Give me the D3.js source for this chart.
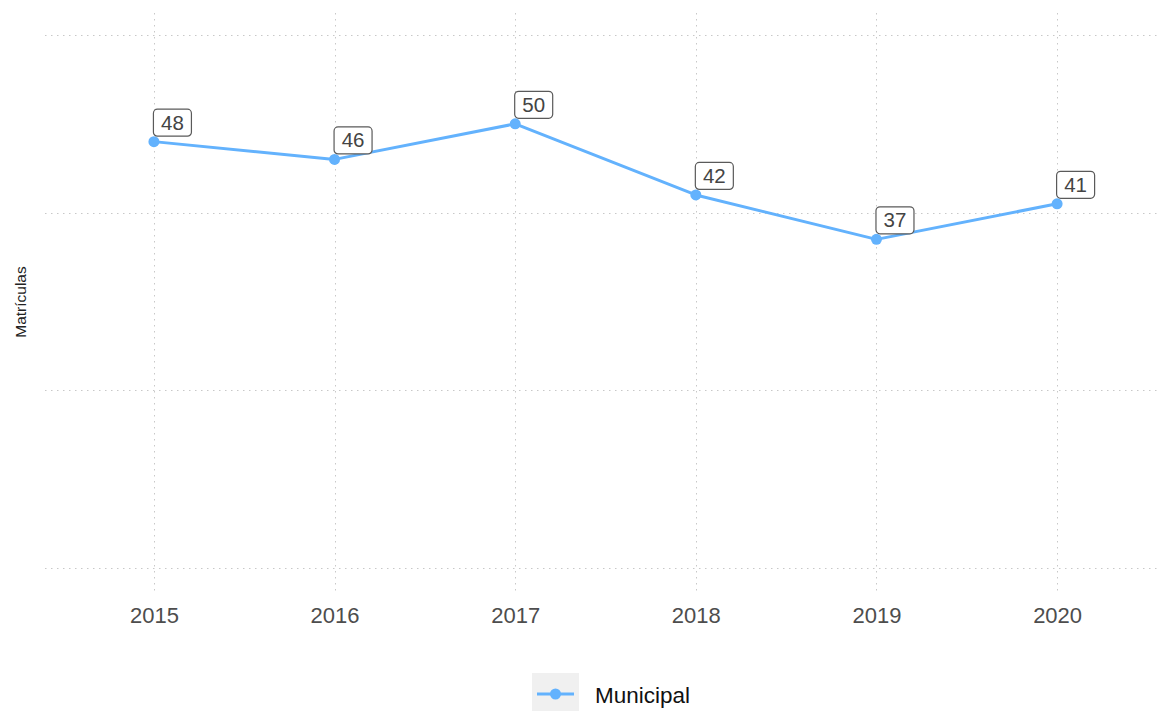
<!DOCTYPE html>
<html>
<head>
<meta charset="utf-8">
<script src="https://cdn.jsdelivr.net/npm/d3@7"></script>
<style>
  html, body { margin: 0; padding: 0; background: #fff; }
  svg { display: block; font-family: "Liberation Sans", Arial, Helvetica, sans-serif; }
</style>
</head>
<body>
<svg id="chart" width="1157" height="711"></svg>
<script>
// Enrolment counts per year (Municipal network)
const years = [2015, 2016, 2017, 2018, 2019, 2020];
const municipal = [48, 46, 50, 42, 37, 41];
const yTicks = [0, 20, 40, 60];
const seriesName = "Municipal";
const yTitle = "Matrículas";

const W = 1157, H = 711;
const panel = { left: 45, right: 1157, top: 13, bottom: 593 };
const lineColor = "#63b2fd";

const svg = d3.select("#chart");

const x = d3.scaleLinear()
  .domain([2014.397, 2020.553])
  .range([panel.left, panel.right]);

const y = d3.scaleLinear()
  .domain([-2.81, 62.48])
  .range([panel.bottom, panel.top]);

// grid
const grid = svg.append("g").attr("class", "grid")
  .attr("stroke", "#c8c8c8").attr("stroke-width", 1).attr("stroke-dasharray", "1.5,4.5");

grid.selectAll("line.h").data(yTicks).join("line").attr("class", "h")
  .attr("x1", panel.left).attr("x2", panel.right)
  .attr("y1", d => Math.round(y(d)) + 0.5).attr("y2", d => Math.round(y(d)) + 0.5);

grid.selectAll("line.v").data(years).join("line").attr("class", "v")
  .attr("x1", d => Math.round(x(d)) + 0.5).attr("x2", d => Math.round(x(d)) + 0.5)
  .attr("y1", panel.top).attr("y2", panel.bottom);

// x axis labels
const xAxis = d3.axisBottom(x).tickValues(years).tickFormat(d3.format("d")).tickSize(0).tickPadding(14);
const gx = svg.append("g").attr("transform", `translate(0,${panel.bottom})`).call(xAxis);
gx.select(".domain").remove();
gx.selectAll("text").attr("fill", "#4d4d4d").attr("font-size", 22)
  .attr("font-family", "Liberation Sans, Arial, sans-serif");

// y title
svg.append("text")
  .attr("transform", `translate(26,${(panel.top + panel.bottom) / 2 - 1}) rotate(-90)`)
  .attr("text-anchor", "middle")
  .attr("font-size", 15.5)
  .attr("fill", "#222")
  .text(yTitle);

const data = years.map((yr, i) => ({ year: yr, value: municipal[i] }));

// line
svg.append("path")
  .datum(data)
  .attr("fill", "none")
  .attr("stroke", lineColor)
  .attr("stroke-width", 3)
  .attr("stroke-linejoin", "round")
  .attr("d", d3.line().x(d => x(d.year)).y(d => y(d.value)));

// points
svg.selectAll("circle.pt").data(data).join("circle").attr("class", "pt")
  .attr("cx", d => x(d.year)).attr("cy", d => y(d.value)).attr("r", 5.5)
  .attr("fill", lineColor);

// value labels
const labels = svg.selectAll("g.lbl").data(data).join("g").attr("class", "lbl")
  .attr("transform", d => `translate(${x(d.year) - 1},${y(d.value) - 5})`);

labels.append("rect")
  .attr("x", 0.5).attr("y", -27.5)
  .attr("width", 38).attr("height", 27)
  .attr("rx", 4).attr("ry", 4)
  .attr("fill", "#fff").attr("stroke", "#5a5a5a").attr("stroke-width", 1.2);

labels.append("text")
  .attr("x", 19.5).attr("y", -7)
  .attr("text-anchor", "middle")
  .attr("font-size", 20.5)
  .attr("fill", "#444")
  .text(d => d.value);

// legend
const lg = svg.append("g").attr("transform", "translate(532,673)");
lg.append("rect").attr("width", 47).attr("height", 38).attr("fill", "#f0f0f0");
lg.append("line").attr("x1", 5).attr("x2", 42).attr("y1", 21).attr("y2", 21)
  .attr("stroke", lineColor).attr("stroke-width", 3);
lg.append("circle").attr("cx", 23.5).attr("cy", 21).attr("r", 5.5).attr("fill", lineColor);
lg.append("text").attr("x", 63).attr("y", 29.5)
  .attr("font-size", 22.5).attr("fill", "#111")
  .text(seriesName);
</script>
</body>
</html>
